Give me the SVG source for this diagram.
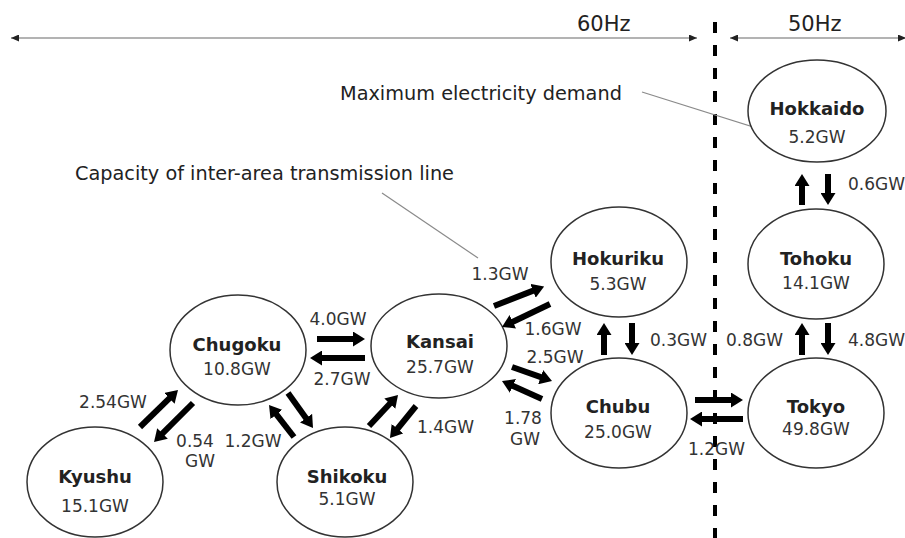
<svg xmlns="http://www.w3.org/2000/svg" width="905" height="538" viewBox="0 0 905 538">
<style>
  .node ellipse { fill: #ffffff; stroke: #333333; stroke-width: 1.5; }
  .name { font-family: "DejaVu Sans", sans-serif; font-weight: bold; font-size: 18px; fill: #222222; text-anchor: middle; }
  .val { font-family: "DejaVu Sans", sans-serif; font-size: 17px; fill: #333333; text-anchor: middle; }
  .lbl { font-family: "DejaVu Sans", sans-serif; font-size: 17px; fill: #333333; }
  .note { font-family: "DejaVu Sans", sans-serif; font-size: 19.3px; fill: #222222; }
  .hz { font-family: "DejaVu Sans", sans-serif; font-size: 21px; fill: #222222; }
  .flow { stroke: #000000; stroke-width: 6; marker-end: url(#head); }
  .leader { stroke: #8a8a8a; stroke-width: 1.2; fill: none; }
  .range { stroke: #9a9a9a; stroke-width: 1.6; marker-start: url(#tip); marker-end: url(#tip); }
</style>
<defs>
  <marker id="head" viewBox="0 0 12 15" refX="1" refY="7.5" markerWidth="12" markerHeight="15" markerUnits="userSpaceOnUse" orient="auto">
    <path d="M0,0 L12,7.5 L0,15 Z" fill="#000000"/>
  </marker>
  <marker id="tip" viewBox="0 0 8 7" refX="8" refY="3.5" markerWidth="8" markerHeight="7" markerUnits="userSpaceOnUse" orient="auto-start-reverse">
    <path d="M0,0 L8,3.5 L0,7 Z" fill="#222222"/>
  </marker>
</defs>
<rect x="0" y="0" width="905" height="538" fill="#ffffff"/>

<g id="frequency-areas">
  <line class="range" x1="11" y1="38" x2="697" y2="38"/>
  <line class="range" x1="730" y1="38" x2="906" y2="38"/>
  <text class="hz" x="577" y="31">60Hz</text>
  <text class="hz" x="788" y="31">50Hz</text>
  <line x1="715" y1="22" x2="715" y2="538" stroke="#000000" stroke-width="4" stroke-dasharray="11 12"/>
</g>

<g id="annotations">
  <text class="note" x="340" y="100">Maximum electricity demand</text>
  <line class="leader" x1="642" y1="92" x2="779" y2="135"/>
  <text class="note" x="75" y="180">Capacity of inter-area transmission line</text>
  <line class="leader" x1="382" y1="193" x2="478" y2="258"/>
</g>

<g id="node-hokkaido" class="node">
  <ellipse cx="817" cy="111" rx="69" ry="51"/>
  <text class="name" x="817" y="115">Hokkaido</text>
  <text class="val" x="817" y="143">5.2GW</text>
</g>
<g id="node-tohoku" class="node">
  <ellipse cx="816" cy="264" rx="68" ry="55"/>
  <text class="name" x="816" y="265">Tohoku</text>
  <text class="val" x="816" y="289">14.1GW</text>
</g>
<g id="node-tokyo" class="node">
  <ellipse cx="816" cy="413" rx="68" ry="55"/>
  <text class="name" x="816" y="413">Tokyo</text>
  <text class="val" x="816" y="435">49.8GW</text>
</g>
<g id="node-hokuriku" class="node">
  <ellipse cx="619" cy="262" rx="68" ry="55"/>
  <text class="name" x="618" y="265">Hokuriku</text>
  <text class="val" x="618" y="290">5.3GW</text>
</g>
<g id="node-chubu" class="node">
  <ellipse cx="619" cy="413" rx="68" ry="55"/>
  <text class="name" x="618" y="413">Chubu</text>
  <text class="val" x="618" y="438">25.0GW</text>
</g>
<g id="node-kansai" class="node">
  <ellipse cx="439" cy="346" rx="68" ry="52"/>
  <text class="name" x="440" y="348">Kansai</text>
  <text class="val" x="440" y="373">25.7GW</text>
</g>
<g id="node-chugoku" class="node">
  <ellipse cx="238" cy="350" rx="68" ry="55"/>
  <text class="name" x="237" y="351">Chugoku</text>
  <text class="val" x="237" y="375">10.8GW</text>
</g>
<g id="node-kyushu" class="node">
  <ellipse cx="95" cy="482" rx="68" ry="55"/>
  <text class="name" x="95" y="483">Kyushu</text>
  <text class="val" x="95" y="512">15.1GW</text>
</g>
<g id="node-shikoku" class="node">
  <ellipse cx="345" cy="482" rx="68" ry="55"/>
  <text class="name" x="347" y="483">Shikoku</text>
  <text class="val" x="347" y="505">5.1GW</text>
</g>

<g id="connectors">
  <line class="flow" x1="140" y1="427" x2="170.1" y2="397.7"/>
  <line class="flow" x1="193" y1="403" x2="161.8" y2="434.2"/>
  <line class="flow" x1="317" y1="339" x2="354" y2="339"/>
  <line class="flow" x1="365" y1="358" x2="321" y2="358"/>
  <line class="flow" x1="288" y1="393" x2="306.6" y2="419"/>
  <line class="flow" x1="294" y1="437" x2="275.8" y2="413.7"/>
  <line class="flow" x1="369" y1="426" x2="390.5" y2="403"/>
  <line class="flow" x1="416" y1="406" x2="396.9" y2="429.5"/>
  <line class="flow" x1="494" y1="306" x2="533.9" y2="290.4"/>
  <line class="flow" x1="550" y1="304" x2="511.9" y2="322.2"/>
  <line class="flow" x1="512" y1="367" x2="541.6" y2="377.4"/>
  <line class="flow" x1="542" y1="399" x2="512" y2="385.5"/>
  <line class="flow" x1="604" y1="355" x2="604" y2="334"/>
  <line class="flow" x1="632" y1="323" x2="632" y2="344"/>
  <line class="flow" x1="695" y1="400" x2="732" y2="400"/>
  <line class="flow" x1="743" y1="419" x2="701" y2="419"/>
  <line class="flow" x1="802" y1="355" x2="802" y2="334"/>
  <line class="flow" x1="828" y1="323" x2="828" y2="344"/>
  <line class="flow" x1="802" y1="205" x2="802" y2="185"/>
  <line class="flow" x1="828" y1="174" x2="828" y2="194"/>
</g>

<g id="connector-labels">
  <text class="lbl" x="848" y="190">0.6GW</text>
  <text class="lbl" x="848" y="346">4.8GW</text>
  <text class="lbl" x="726" y="346">0.8GW</text>
  <text class="lbl" x="650" y="346">0.3GW</text>
  <text class="lbl" x="688" y="455">1.2GW</text>
  <text class="lbl" x="500" y="280" text-anchor="middle">1.3GW</text>
  <text class="lbl" x="553" y="335" text-anchor="middle">1.6GW</text>
  <text class="lbl" x="555" y="363" text-anchor="middle">2.5GW</text>
  <text class="lbl" x="523" y="424" text-anchor="middle">1.78</text>
  <text class="lbl" x="540" y="445" text-anchor="end">GW</text>
  <text class="lbl" x="338" y="325" text-anchor="middle">4.0GW</text>
  <text class="lbl" x="342" y="385" text-anchor="middle">2.7GW</text>
  <text class="lbl" x="113" y="408" text-anchor="middle">2.54GW</text>
  <text class="lbl" x="195" y="447" text-anchor="middle">0.54</text>
  <text class="lbl" x="200" y="467" text-anchor="middle">GW</text>
  <text class="lbl" x="253" y="447" text-anchor="middle">1.2GW</text>
  <text class="lbl" x="417" y="433">1.4GW</text>
</g>
</svg>
